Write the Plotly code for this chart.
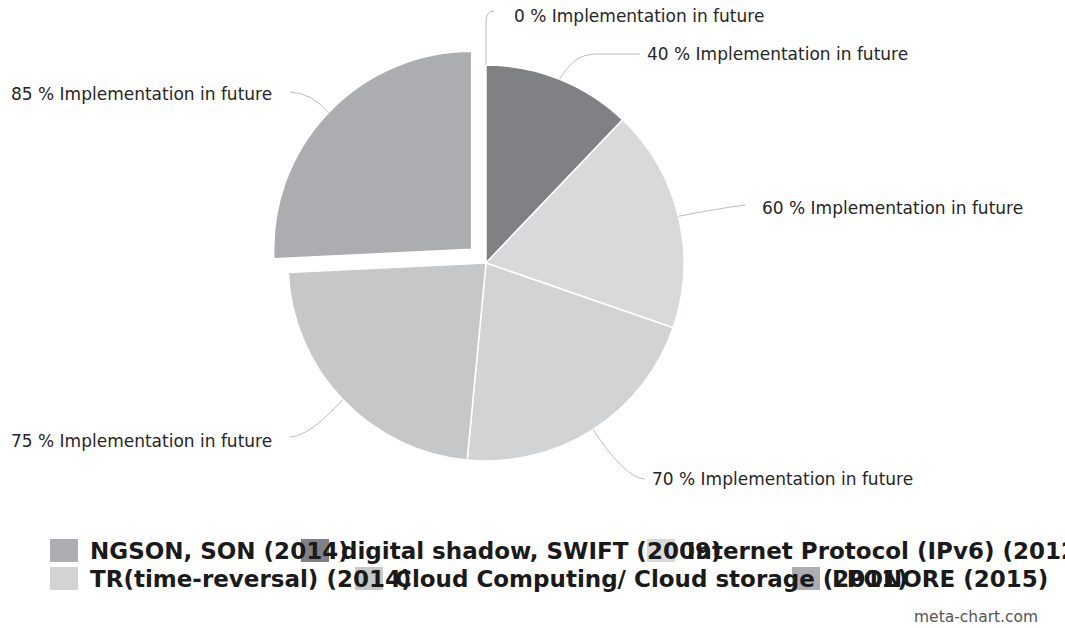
import numpy as np
import plotly.graph_objects as go

# data
technologies = [
    "NGSON, SON (2014)",
    "digital shadow, SWIFT (2009)",
    "Internet Protocol (IPv6) (2012)",
    "TR(time-reversal) (2014)",
    "Cloud Computing/ Cloud storage (2011)",
    "LPONORE (2015)",
]
implementation = [0, 40, 60, 70, 75, 85]
pulls = [0, 0, 0, 0, 0, 0.1]
slice_colors = ["#adaeb2", "#808185", "#d8d9db", "#d2d3d5", "#c6c7c9", "#acadb1"]

W, H = 1065, 628
CX, CY, R = 486, 263, 198  # pie centre / radius in pixels


def px_to_paper(x, y):
    return x / W, 1 - y / H


half = R * (1 + max(pulls))
fig = go.Figure(go.Pie(
    labels=technologies,
    values=implementation,
    pull=pulls,
    sort=False,
    direction="clockwise",
    rotation=0,
    textinfo="none",
    hoverinfo="label+value",
    marker=dict(colors=slice_colors, line=dict(color="white", width=1.5)),
    domain=dict(x=[(CX - half) / W, (CX + half) / W],
                y=[(H - CY - half) / H, (H - CY + half) / H]),
    showlegend=False,
))

# slice labels with curved leader lines
# (label anchor x, y, xanchor, bend points near label)
label_pos = [
    (512, 16, "left", [(486, 22), (486, 11), (494, 11)]),
    (645, 54, "left", [(572, 60), (580, 54), (600, 54), (640, 54)]),
    (760, 208, "left", [(715, 209), (745, 205)]),
    (650, 479, "left", [(625, 478), (645, 479)]),
    (274, 441, "right", [(310, 436), (290, 437)]),
    (274, 94, "right", [(312, 93), (290, 92)]),
]

total = sum(implementation)
start = 0.0
for val, pull, (lx, ly, anchor, pts) in zip(implementation, pulls, label_pos):
    span = 360.0 * val / total
    mid = np.radians(start + span / 2)
    start += span
    ox = CX + pull * R * np.sin(mid)
    oy = CY - pull * R * np.cos(mid)
    tx = ox + R * np.sin(mid)
    ty = oy - R * np.cos(mid)
    p = [px_to_paper(tx, ty)] + [px_to_paper(a, b) for a, b in pts]
    if len(p) == 3:
        path = f"M {p[0][0]},{p[0][1]} Q {p[1][0]},{p[1][1]} {p[2][0]},{p[2][1]}"
    elif len(p) == 4:
        path = (f"M {p[0][0]},{p[0][1]} L {p[1][0]},{p[1][1]} "
                f"Q {p[2][0]},{p[2][1]} {p[3][0]},{p[3][1]}")
    else:
        path = (f"M {p[0][0]},{p[0][1]} C {p[1][0]},{p[1][1]} {p[2][0]},{p[2][1]} "
                f"{p[3][0]},{p[3][1]} L {p[4][0]},{p[4][1]}")
    fig.add_shape(type="path", path=path, xref="paper", yref="paper",
                  line=dict(color="#bdbdbd", width=1))
    ax_, ay_ = px_to_paper(lx, ly)
    fig.add_annotation(x=ax_, y=ay_, xref="paper", yref="paper",
                       text=f"{val} % Implementation in future",
                       showarrow=False, xanchor=anchor, yanchor="middle",
                       font=dict(family="DejaVu Sans", size=17, color="#262626"))

# legend drawn by hand to keep the original's packed layout
legend_pos = [(50, 539), (301, 539), (647, 539), (50, 567), (355, 567), (792, 567)]
for name, col, (sx, sy) in zip(technologies, slice_colors, legend_pos):
    x0, y0 = px_to_paper(sx, sy)
    x1, y1 = px_to_paper(sx + 28, sy + 23)
    fig.add_shape(type="rect", xref="paper", yref="paper",
                  x0=x0, x1=x1, y0=y1, y1=y0,
                  fillcolor=col, line=dict(width=0), layer="above")
    tx, ty = px_to_paper(sx + 38, sy + 12)
    fig.add_annotation(x=tx, y=ty, xref="paper", yref="paper", text=name,
                       showarrow=False, xanchor="left", yanchor="middle",
                       font=dict(family="DejaVu Sans", size=23, color="#1a1a1a",
                                 weight="bold"))

fig.add_annotation(x=1040 / W, y=1 - 617 / H, xref="paper", yref="paper",
                   text="meta-chart.com", showarrow=False,
                   xanchor="right", yanchor="middle",
                   font=dict(family="DejaVu Sans", size=15.5, color="#555555"))

fig.update_layout(
    width=W, height=H,
    margin=dict(l=0, r=0, t=0, b=0),
    paper_bgcolor="white",
    plot_bgcolor="white",
)

fig.write_html("out.html", config={"displayModeBar": False},
               post_script="document.body.style.margin='0';")
